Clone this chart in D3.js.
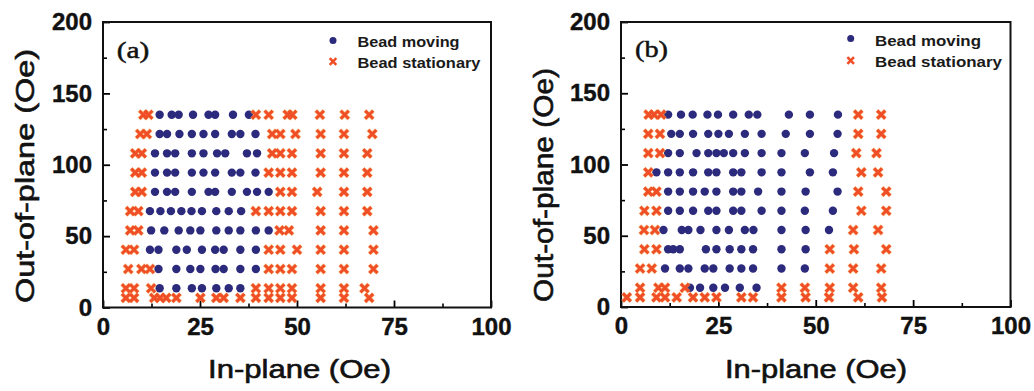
<!DOCTYPE html>
<html><head><meta charset="utf-8">
<script src="https://cdn.jsdelivr.net/npm/d3@7"></script>
<style>body{margin:0;background:#fff}svg{display:block}</style>
</head><body>
<svg id="c" width="1034" height="391"></svg>
<script>
// ---- data ----
const rowFields = [135, 121.5, 108, 94.5, 81, 67.5, 54, 40.5, 27, 13.5, 6.75];
const xTicks = [0, 25, 50, 75, 100];
const xMinor = [12.5, 37.5, 62.5, 87.5];
const yTicks = [0, 50, 100, 150, 200];
const yMinor = [25, 75, 125, 175];
const seriesNames = ["Bead moving", "Bead stationary"];
const panelLabels = ["(a)", "(b)"];

// panel (a): in-plane values per out-of-plane row (same order as rowFields)
const movingA = [
  [14.6, 17.7, 19.5, 23.2, 27.2, 28.9, 33.5, 37.6],
  [14.6, 16.5, 19.7, 22.9, 25.9, 28.9, 33.2, 35.4, 39.3],
  [13.4, 16.5, 18.6, 22.9, 25.9, 29.4, 31.5, 37.1, 39.7],
  [13.4, 16.5, 18.6, 22.9, 25.9, 28.9, 33.2, 35.4, 39.3],
  [13.4, 16.5, 18.6, 22.9, 27.2, 28.9, 33.2, 37.1, 39.7, 42.7],
  [12.1, 14.8, 17.5, 20.2, 22.8, 25.5, 29.2, 32.4, 35.6],
  [12.4, 15.8, 19.5, 22.5, 25.1, 29.2, 32.4, 35.4, 39.4, 42.7],
  [12.1, 14.3, 18.9, 21.6, 25.5, 28.9, 31.1, 35.4, 39.4],
  [14.3, 18.9, 22.5, 25.1, 29.0, 31.1, 35.4, 39.4],
  [14.6, 18.9, 22.9, 25.5, 29.2, 32.4, 35.4],
  []
];
const stationaryA = [
  [10.4, 11.7, 39.4, 42.7, 47.6, 48.8, 55.9, 62.3, 68.6],
  [9.6, 11.3, 43.6, 45.7, 49.6, 56.1, 62.1, 69.4],
  [8.3, 10.0, 43.6, 45.7, 48.7, 56.1, 62.1, 68.1],
  [8.3, 10.0, 42.7, 45.7, 48.7, 56.1, 62.1, 68.1],
  [8.3, 10.0, 45.7, 48.7, 55.2, 62.1, 68.1],
  [7.0, 9.1, 39.4, 42.7, 45.7, 48.7, 56.1, 62.1, 68.1],
  [7.0, 9.1, 45.5, 47.9, 56.1, 62.1, 69.7],
  [5.9, 8.0, 42.7, 45.7, 50.0, 56.1, 62.1, 69.7],
  [6.5, 9.9, 12.1, 42.7, 45.7, 48.7, 56.1, 62.1, 69.7],
  [5.9, 8.0, 12.4, 39.4, 42.7, 45.7, 48.7, 56.1, 62.1, 67.4],
  [5.9, 8.0, 13.2, 14.7, 16.3, 18.9, 25.1, 29.2, 31.1, 35.4, 39.4, 42.7, 45.7, 48.7, 56.1, 62.1, 68.6]
];

// panel (b)
const movingB = [
  [12.1, 15.4, 18.4, 22.2, 24.9, 28.8, 32.8, 35.0, 43.1, 48.5, 55.7],
  [12.9, 15.1, 18.5, 22.4, 25.0, 27.7, 31.8, 36.1, 42.3, 48.5, 55.6],
  [12.1, 15.1, 19.4, 22.4, 24.5, 26.4, 28.8, 31.8, 36.1, 41.2, 47.2, 54.7],
  [9.1, 12.1, 15.1, 18.5, 22.4, 24.5, 28.8, 30.9, 36.1, 41.2, 48.5, 54.4],
  [12.1, 15.1, 18.5, 21.5, 24.5, 28.8, 30.9, 35.2, 41.2, 47.4, 55.6],
  [12.1, 15.1, 18.5, 22.4, 24.5, 28.8, 30.9, 36.1, 41.2, 47.2, 54.4],
  [10.9, 15.6, 17.3, 20.4, 24.5, 27.7, 31.8, 34.0, 41.2, 47.4, 53.4],
  [12.1, 13.4, 15.1, 21.8, 24.5, 27.9, 30.9, 33.9, 41.2, 47.4],
  [11.3, 15.1, 17.3, 21.5, 23.7, 27.9, 30.9, 33.9, 41.2, 47.2],
  [17.7, 20.3, 23.7, 26.7, 30.5, 34.8],
  []
];
const stationaryB = [
  [7.1, 8.5, 10.3, 60.9, 66.8],
  [7.0, 10.0, 60.9, 66.8],
  [7.0, 10.0, 60.4, 65.6],
  [7.0, 61.7, 66.0],
  [7.0, 9.1, 60.9, 68.1],
  [6.0, 9.1, 61.7, 68.1],
  [5.9, 8.7, 59.6, 66.0],
  [6.0, 9.1, 53.6, 59.8, 68.1],
  [4.9, 7.9, 53.6, 59.6, 66.8],
  [4.9, 9.6, 11.3, 16.4, 41.2, 47.2, 53.6, 59.6, 66.8],
  [1.5, 4.9, 9.1, 11.3, 14.3, 18.5, 21.5, 24.5, 30.9, 33.9, 41.2, 47.4, 53.4, 60.9, 67.0]
];

// ---- drawing ----
const svg = d3.select("#c");
const DOT = "#2c2a7c", CROSS = "#ef4e26";

function toPoints(rows) {
  const pts = [];
  rows.forEach((xs, i) => xs.forEach(v => pts.push([v, rowFields[i]])));
  return pts;
}

const panels = [
  {moving: movingA, stat: stationaryA, xr: [103, 491], yr: [307.5, 22], label: panelLabels[0],
   lab: {x: 116.7, y: 58, len: 32.6},
   leg: {mx: 333, my1: 40.5, my2: 61.5, tx: 357.5, ty1: 46.5, ty2: 68, l1: 102, l2: 123},
   xt: {x: 299.5, y: 378, len: 183}, yt: {x: 34, y: 176, len: 254, fs: 26}},
  {moving: movingB, stat: stationaryB, xr: [621, 1010.5], yr: [307, 22], label: panelLabels[1],
   lab: {x: 635, y: 56.5, len: 33},
   leg: {mx: 850.7, my1: 38.5, my2: 60.5, tx: 875, ty1: 45.5, ty2: 67, l1: 106, l2: 127},
   xt: {x: 816, y: 378, len: 182}, yt: {x: 553, y: 185, len: 234, fs: 27}}
];

function crossPath(s) {
  return `M${-s},${-s}L${s},${s}M${-s},${s}L${s},${-s}`;
}

panels.forEach(p => {
  const x = d3.scaleLinear().domain([0, 100]).range(p.xr);
  const y = d3.scaleLinear().domain([0, 200]).range(p.yr);
  const g = svg.append("g");

  // minor ticks
  g.append("g").attr("transform", `translate(0,${p.yr[0]})`)
    .call(d3.axisBottom(x).tickValues(xMinor).tickSize(-4).tickFormat(""))
    .call(a => a.select(".domain").remove())
    .call(a => a.selectAll("line").attr("stroke", "#000").attr("stroke-width", 1.6));
  g.append("g").attr("transform", `translate(${p.xr[0]},0)`)
    .call(d3.axisLeft(y).tickValues(yMinor).tickSize(-4).tickFormat(""))
    .call(a => a.select(".domain").remove())
    .call(a => a.selectAll("line").attr("stroke", "#000").attr("stroke-width", 1.6));

  // major ticks + labels
  g.append("g").attr("transform", `translate(0,${p.yr[0]})`)
    .call(d3.axisBottom(x).tickValues(xTicks).tickSize(-7).tickPadding(10))
    .call(a => a.select(".domain").remove())
    .call(a => a.selectAll("line").attr("stroke", "#000").attr("stroke-width", 1.8))
    .call(a => a.selectAll("text").attr("font-family", "Liberation Sans, Arial, sans-serif")
      .attr("font-size", 24).attr("font-weight", "bold").attr("fill", "#111")
      .attr("stroke", "#111").attr("stroke-width", 0.4));
  g.append("g").attr("transform", `translate(${p.xr[0]},0)`)
    .call(d3.axisLeft(y).tickValues(yTicks).tickSize(-7).tickPadding(11))
    .call(a => a.select(".domain").remove())
    .call(a => a.selectAll("line").attr("stroke", "#000").attr("stroke-width", 1.8))
    .call(a => a.selectAll("text").attr("font-family", "Liberation Sans, Arial, sans-serif")
      .attr("font-size", 24).attr("font-weight", "bold").attr("fill", "#111")
      .attr("stroke", "#111").attr("stroke-width", 0.4));

  // frame
  g.append("rect")
    .attr("x", p.xr[0]).attr("y", p.yr[1])
    .attr("width", p.xr[1] - p.xr[0]).attr("height", p.yr[0] - p.yr[1])
    .attr("fill", "none").attr("stroke", "#111").attr("stroke-width", 2);

  // moving dots
  g.append("g").selectAll("circle").data(toPoints(p.moving)).join("circle")
    .attr("cx", d => x(d[0])).attr("cy", d => y(d[1])).attr("r", 4.2)
    .attr("fill", DOT);

  // stationary crosses (halo + core)
  const sp = toPoints(p.stat);
  g.append("g").selectAll("path").data(sp).join("path")
    .attr("transform", d => `translate(${x(d[0])},${y(d[1])})`)
    .attr("d", crossPath(4.2)).attr("stroke", "#f7a24a").attr("stroke-width", 4.2)
    .attr("fill", "none").attr("opacity", 0.6);
  g.append("g").selectAll("path").data(sp).join("path")
    .attr("transform", d => `translate(${x(d[0])},${y(d[1])})`)
    .attr("d", crossPath(4)).attr("stroke", CROSS).attr("stroke-width", 3)
    .attr("fill", "none");

  // panel label
  g.append("text").attr("x", p.lab.x).attr("y", p.lab.y)
    .attr("font-family", "Liberation Serif, Times New Roman, serif").attr("font-size", 24)
    .attr("textLength", p.lab.len).attr("lengthAdjust", "spacingAndGlyphs")
    .attr("fill", "#111").attr("stroke", "#111").attr("stroke-width", 0.5).text(p.label);

  // legend
  const L = p.leg;
  g.append("circle").attr("cx", L.mx).attr("cy", L.my1).attr("r", 3.5).attr("fill", DOT);
  g.append("path").attr("transform", `translate(${L.mx},${L.my2})`)
    .attr("d", crossPath(3.3)).attr("stroke", CROSS).attr("stroke-width", 2.6).attr("fill", "none");
  [[L.ty1, L.l1, seriesNames[0]], [L.ty2, L.l2, seriesNames[1]]].forEach(([ty, len, t]) => {
    g.append("text").attr("x", L.tx).attr("y", ty)
      .attr("font-family", "Liberation Sans, Arial, sans-serif").attr("font-size", 15)
      .attr("font-weight", "bold").attr("fill", "#1a1a1a")
      .attr("textLength", len).attr("lengthAdjust", "spacingAndGlyphs").text(t);
  });

  // axis titles
  g.append("text").attr("x", p.xt.x).attr("y", p.xt.y).attr("text-anchor", "middle")
    .attr("font-family", "Liberation Sans, Arial, sans-serif").attr("font-size", 25)
    .attr("fill", "#111").attr("stroke", "#111").attr("stroke-width", 0.6)
    .attr("textLength", p.xt.len).attr("lengthAdjust", "spacingAndGlyphs")
    .text("In-plane (Oe)");
  g.append("text").attr("transform", `translate(${p.yt.x},${p.yt.y}) rotate(-90)`)
    .attr("text-anchor", "middle")
    .attr("font-family", "Liberation Sans, Arial, sans-serif").attr("font-size", p.yt.fs)
    .attr("fill", "#111").attr("stroke", "#111").attr("stroke-width", 0.6)
    .attr("textLength", p.yt.len).attr("lengthAdjust", "spacingAndGlyphs")
    .text("Out-of-plane (Oe)");
});
</script>
</body></html>
